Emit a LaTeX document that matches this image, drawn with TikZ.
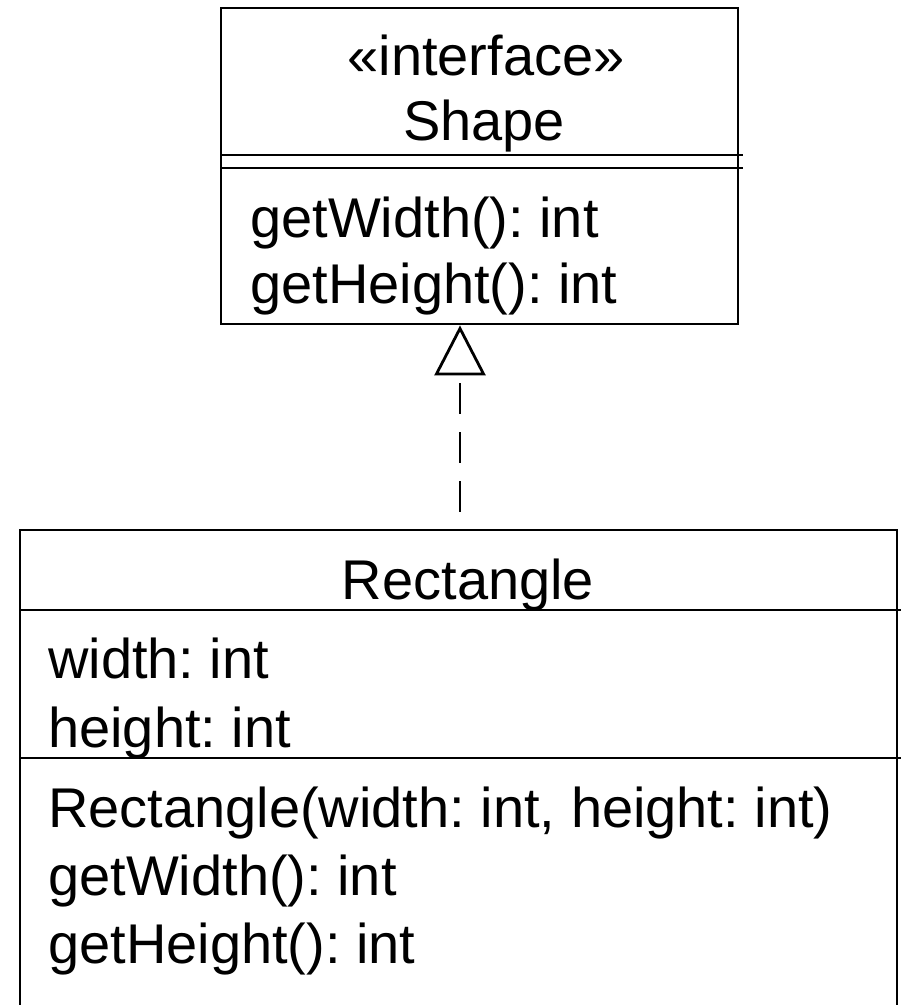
\documentclass[tikz,border=0pt]{standalone}
\usepackage{fontspec}
\setmainfont{Liberation Sans}
\usetikzlibrary{arrows.meta}
\frenchspacing
\begin{document}
\begin{tikzpicture}[x=1pt, y=-1pt,
  lw/.style={line width=2.8pt},
  classbox/.style={lw, draw=black, fill=none, inner sep=0pt, rectangle},
  txt/.style={inner sep=0pt, anchor=base west, font=\fontsize{56pt}{67pt}\selectfont\frenchspacing},
  ctxt/.style={inner sep=0pt, anchor=base, font=\fontsize{56pt}{67pt}\selectfont\frenchspacing},
  realize/.style={lw, dash pattern=on 31pt off 18pt, dash phase=32pt,
    -{Triangle[open, length=50pt, width=51pt, line width=2.8pt]}}
]
\path[use as bounding box, clip] (0,0) rectangle (901,1005);
\fill[white] (0,0) rectangle (901,1005);

% Interface Shape
\node[classbox, minimum width=517pt, minimum height=316pt] (shape) at (479.5,166) {};
\coordinate (sdl) at (221,155);
\coordinate (sdr) at (743,155);
\coordinate (sdl2) at (221,168);
\coordinate (sdr2) at (743,168);
\draw[lw] (sdl) -- (sdr);
\draw[lw] (sdl2) -- (sdr2);
\node[ctxt] (st) at (486,75) {«interface»};
\node[ctxt] (sn) at (484,140) {Shape};
\node[txt] (sm1) at (250,237) {getWidth(): int};
\node[txt] (sm2) at (250,303) {getHeight(): int};

% Class Rectangle
\node[classbox, minimum width=877pt, minimum height=600pt] (rect) at (458.5,830) {};
\coordinate (rd1l) at (20,610);
\coordinate (rd1r) at (901,610);
\coordinate (rd2l) at (20,758);
\coordinate (rd2r) at (901,758);
\draw[lw] (rd1l) -- (rd1r);
\draw[lw] (rd2l) -- (rd2r);
\node[ctxt] (rn) at (468,599) {Rectangle};
\node[txt] (ra1) at (48,678) {width: int};
\node[txt] (ra2) at (48,747) {height: int};
\node[txt] (rm1) at (48,827) {Rectangle(width: int, height: int)};
\node[txt] (rm2) at (48,895) {getWidth(): int};
\node[txt] (rm3) at (48,963) {getHeight(): int};

% Realization
\coordinate (ax) at (460,0);
\draw[realize] (rect.north -| ax) -- (shape.south -| ax);
\end{tikzpicture}
\end{document}
